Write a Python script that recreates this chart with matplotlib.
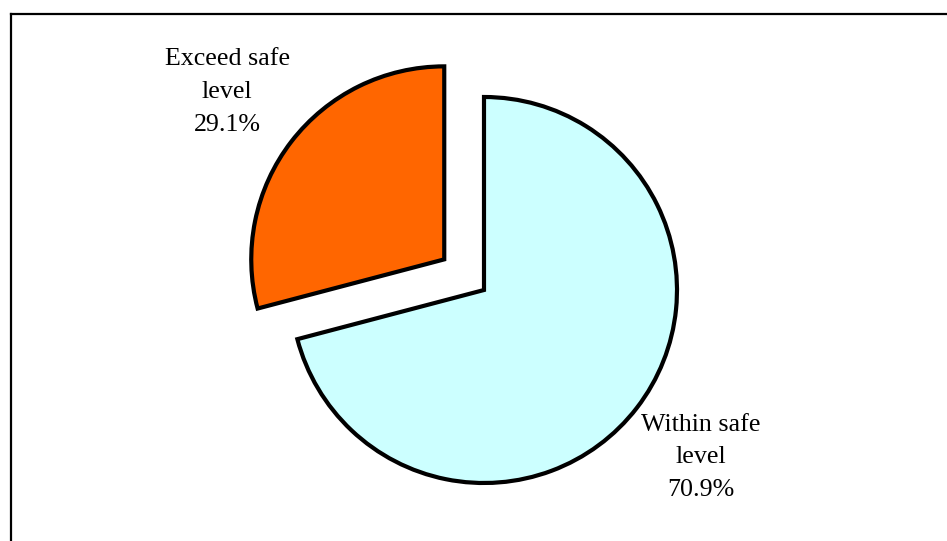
import matplotlib
matplotlib.use("Agg")
import matplotlib.pyplot as plt
from matplotlib.lines import Line2D

labels = ['Within safe\nlevel', 'Exceed safe\nlevel']
percents = [70.9, 29.1]
colors = ['#CCFFFF', '#FF6600']

plt.rcParams['font.family'] = ['Liberation Serif', 'DejaVu Serif']

fig = plt.figure(figsize=(9.47, 5.41), dpi=100)
ax = fig.add_axes([0, 0, 1, 1])

radius = 193
explode = (0, 0.26 * radius)  # pie explode is in data units

texts = [f"{l}\n{p}%" for l, p in zip(labels, percents)]
wedges, lbls = ax.pie(percents, labels=texts, colors=colors, explode=explode,
                      startangle=90, counterclock=False, radius=radius,
                      center=(484, 251), labeldistance=1.42, frame=False,
                      wedgeprops=dict(edgecolor='black', linewidth=3),
                      textprops=dict(fontsize=18.7, linespacing=1.63))
for t in lbls:
    t.set_ha('center')
    t.set_va('center')

ax.set_xlim(0, 947)
ax.set_ylim(0, 541)
ax.set_aspect('equal')
ax.axis('off')

# outer frame (only top and left visible)
y_top = 1 - 14 / 541
x_left = 11 / 947
fig.add_artist(Line2D([x_left, 1.0], [y_top, y_top], transform=fig.transFigure,
                      color='black', linewidth=1.6))
fig.add_artist(Line2D([x_left, x_left], [0.0, y_top], transform=fig.transFigure,
                      color='black', linewidth=1.6))

fig.savefig('out.png', dpi=100)
